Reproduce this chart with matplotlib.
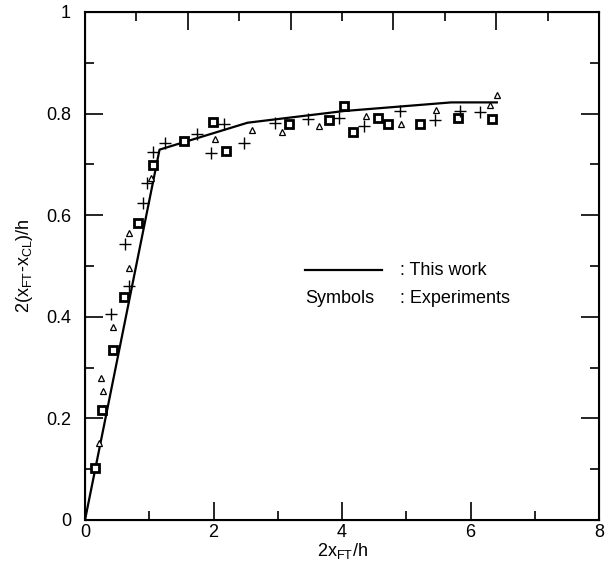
import matplotlib
matplotlib.use('Agg')
import matplotlib.pyplot as plt
from matplotlib.lines import Line2D
from matplotlib.ticker import MultipleLocator, FuncFormatter

plt.rcParams['font.family'] = ['Liberation Sans', 'DejaVu Sans']
plt.rcParams['mathtext.fontset'] = 'custom'
plt.rcParams['mathtext.rm'] = 'Liberation Sans'
plt.rcParams['mathtext.it'] = 'Liberation Sans'

# model curve ("This work")
line_x = [0.0, 1.16, 2.53, 4.03, 5.70, 6.41]
line_y = [0.0, 0.729, 0.782, 0.805, 0.822, 0.822]

# experiments: squares
sq_x = [0.15, 0.26, 0.43, 0.60, 0.82, 1.06, 1.54, 1.99, 2.19, 3.17, 3.79,
        4.03, 4.17, 4.56, 4.72, 5.22, 5.80, 6.34]
sq_y = [0.103, 0.216, 0.335, 0.438, 0.585, 0.699, 0.747, 0.784, 0.727, 0.780,
        0.787, 0.815, 0.764, 0.791, 0.780, 0.780, 0.791, 0.790]

# experiments: triangles
tri_x = [0.22, 0.28, 0.25, 0.43, 0.69, 0.68, 1.02, 2.02, 2.60, 3.07, 3.64,
         4.37, 4.92, 5.47, 6.30, 6.41]
tri_y = [0.152, 0.253, 0.279, 0.379, 0.496, 0.564, 0.673, 0.750, 0.767,
         0.763, 0.775, 0.796, 0.780, 0.807, 0.816, 0.836]

# experiments: crosses
cr_x = [0.40, 0.68, 0.625, 0.91, 0.96, 1.06, 1.25, 1.75, 2.16, 1.96, 2.48,
        2.95, 3.47, 3.96, 4.35, 4.90, 5.44, 5.84, 6.15]
cr_y = [0.405, 0.461, 0.543, 0.623, 0.663, 0.725, 0.742, 0.760, 0.780, 0.722,
        0.742, 0.782, 0.790, 0.791, 0.776, 0.805, 0.787, 0.805, 0.803]

fig = plt.figure(figsize=(6.05, 5.84), dpi=100)
ax = fig.add_axes([0.1405, 0.1096, 0.8496, 0.8699])

ax.plot(line_x, line_y, color='black', lw=1.6)
ax.plot(sq_x, sq_y, ls='none', marker='s', ms=5.3, mfc='white', mec='black',
        mew=2.0)
ax.plot(tri_x, tri_y, ls='none', marker='^', ms=5, mfc='white', mec='black',
        mew=0.9)
ax.plot(cr_x, cr_y, ls='none', marker='+', ms=8, color='black', mew=1.0)

ax.set_xlim(0, 8)
ax.set_ylim(0, 1)
ax.xaxis.set_major_locator(MultipleLocator(2))
ax.xaxis.set_minor_locator(MultipleLocator(1))
ax.yaxis.set_major_locator(MultipleLocator(0.2))
ax.yaxis.set_minor_locator(MultipleLocator(0.1))
ax.yaxis.set_major_formatter(FuncFormatter(lambda v, p: '%g' % round(v, 1)))
ax.tick_params(which='both', direction='in', right=True, labelsize=13,
               width=1.2)
ax.tick_params(axis='x', pad=3)
ax.tick_params(axis='y', pad=10)
ax.tick_params(which='major', length=13)
ax.tick_params(which='minor', length=6.5)
for s in ax.spines.values():
    s.set_linewidth(1.5)

# top axis has its own (unlabelled) divisions
top = ax.twiny()
top.set_xlim(0, 10)
top.xaxis.set_major_locator(MultipleLocator(2))
top.xaxis.set_minor_locator(MultipleLocator(1))
top.tick_params(which='both', direction='in', labeltop=False, width=1.2)
top.tick_params(which='major', length=13)
top.tick_params(which='minor', length=6.5)

ax.set_xlabel(r'2x$_{\mathregular{FT}}$/h', fontsize=13, labelpad=0)
ax.set_ylabel(r'2(x$_{\mathregular{FT}}$-x$_{\mathregular{CL}}$)/h',
              fontsize=13, labelpad=8)

# text legend
ax.add_line(Line2D([0.428, 0.578], [0.492, 0.492], transform=ax.transAxes,
                   color='black', lw=1.6))
ax.text(0.613, 0.492, ': This work', transform=ax.transAxes, fontsize=13,
        va='center')
ax.text(0.428, 0.436, 'Symbols', transform=ax.transAxes, fontsize=13,
        va='center')
ax.text(0.613, 0.436, ': Experiments', transform=ax.transAxes, fontsize=13,
        va='center')

fig.savefig('out.png', dpi=100)
